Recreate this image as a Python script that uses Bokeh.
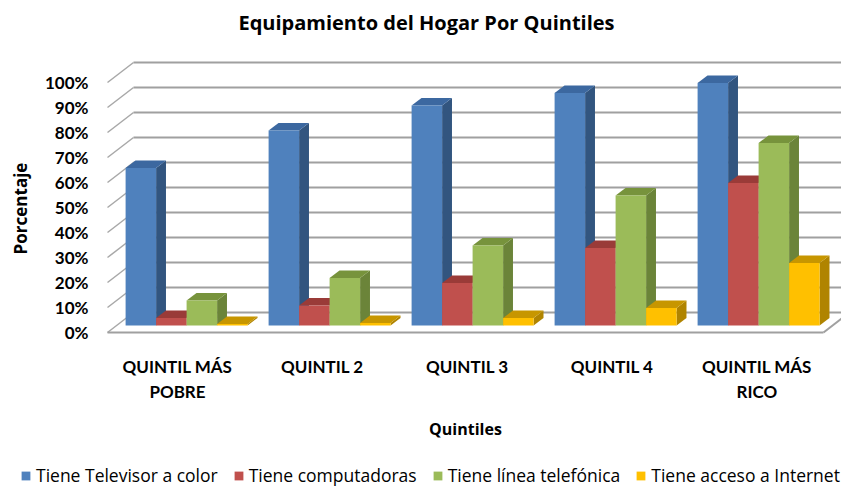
import math
from bokeh.plotting import figure
from bokeh.models import Range1d, Legend, LegendItem
from bokeh.core.properties import value
from bokeh.embed import file_html
from bokeh.resources import INLINE

# ---------------- data ----------------
categories = ["QUINTIL MÁS\nPOBRE", "QUINTIL 2", "QUINTIL 3", "QUINTIL 4", "QUINTIL MÁS\nRICO"]
series_names = ["Tiene Televisor a color", "Tiene computadoras",
                "Tiene línea telefónica", "Tiene acceso a Internet"]
tv = [63, 78, 88, 93, 97]
comp = [3, 8, 17, 31, 57]
tel = [10, 19, 32, 52, 73]
inet = [0.6, 1, 3, 7, 25]
y_ticks = [0, 10, 20, 30, 40, 50, 60, 70, 80, 90, 100]
y_tick_labels = ["0%", "10%", "20%", "30%", "40%", "50%", "60%", "70%", "80%", "90%", "100%"]
title = "Equipamiento del Hogar Por Quintiles"
y_title = "Porcentaje"
x_title = "Quintiles"

series = [tv, comp, tel, inet]
front_colors = ["#4F81BD", "#C0504D", "#9BBB59", "#FFC000"]
side_colors = ["#32557F", "#8C3836", "#6B8439", "#B08400"]
top_colors = ["#3C68A0", "#9A3B38", "#77933C", "#C79600"]

FONT = "Lato"
FONT2 = "Open Sans"

# ---------------- scales: whole canvas is the frame ----------------
W, H = 841, 491
PXX = 143.0          # pixels per category
PXY = 2.5            # pixels per percent
CX0 = 177.0          # pixel x of category 0 (unshifted)
CY0 = 332.0          # pixel y of 0 % on the front wall


def px2x(px):
    return (px - CX0) / PXX


def py2y(py):
    return (CY0 - py) / PXY


p = figure(width=W, height=H, x_range=Range1d(px2x(0), px2x(W)), y_range=Range1d(py2y(H), py2y(0)),
           output_backend="svg", toolbar_location=None,
           min_border=0, min_border_left=0, min_border_right=0, min_border_top=0, min_border_bottom=0)
p.outline_line_color = None
p.axis.visible = False
p.xgrid.visible = False
p.ygrid.visible = False
p.background_fill_color = "white"

# 3D geometry
xW = px2x(107)       # left (front) edge of the wall
xFR = px2x(823)      # right front edge of the floor
DX = 26.0 / PXX      # wall depth (x)
DY = 20.0 / PXY      # wall depth (y)
D0 = 0.35            # depth of bar front face
DB = 0.38            # bar depth
GW = 122.0 / PXX     # group width
BW = GW / 4.0        # bar width

# walls / gridlines
bx0 = [xW + DX for v in y_ticks]
bx1 = [px2x(W + 20) for v in y_ticks]
by = [v + DY for v in y_ticks]
p.segment(x0=bx0, y0=by, x1=bx1, y1=by, line_color="#A0A0A0", line_width=2)
p.segment(x0=[xW for v in y_ticks], y0=y_ticks, x1=bx0, y1=by, line_color="#A8A8A8", line_width=1.5)
# floor
p.segment(x0=[xW, xFR], y0=[0, 0], x1=[xFR, xFR + DX], y1=[0, DY], line_color="#A0A0A0", line_width=2)

# bars
sides_x, sides_y, sides_c = [], [], []
tops_x, tops_y, tops_c = [], [], []
fronts = []
bxd, byd = DB * DX, DB * DY
for s, vals in enumerate(series):
    lefts, rights, bots, tops_ = [], [], [], []
    for i, v in enumerate(vals):
        xl = i - GW / 2 + s * BW + D0 * DX
        xr = xl + BW
        yb = D0 * DY
        yt = yb + v
        sides_x.append([xr, xr + bxd, xr + bxd, xr])
        sides_y.append([yb, yb + byd, yt + byd, yt])
        sides_c.append(side_colors[s])
        tops_x.append([xl, xr, xr + bxd, xl + bxd])
        tops_y.append([yt, yt, yt + byd, yt + byd])
        tops_c.append(top_colors[s])
        lefts.append(xl); rights.append(xr); bots.append(yb); tops_.append(yt)
    fronts.append((lefts, rights, bots, tops_))

p.patches(xs=sides_x, ys=sides_y, fill_color=sides_c, line_color=None)
p.patches(xs=tops_x, ys=tops_y, fill_color=tops_c, line_color=None)
renderers = []
for s, (l, r, b, t) in enumerate(fronts):
    rr = p.quad(left=l, right=r, bottom=b, top=t, fill_color=front_colors[s], line_color=None)
    renderers.append(rr)

# y tick labels (front wall scale)
p.text(x=[px2x(88)] * len(y_ticks), y=y_ticks, text=y_tick_labels,
       text_font=value(FONT), text_font_style="bold", text_font_size="17px",
       text_align="right", text_baseline="middle", text_color="#000000")
# y title
p.text(x=[px2x(20)], y=[py2y(208)], text=[y_title], angle=math.pi / 2,
       text_font=value(FONT2), text_font_style="bold", text_font_size="17px",
       text_align="center", text_baseline="middle", text_color="#000000")

# category labels (one text per line)
lx, ly, lt = [], [], []
for i, c in enumerate(categories):
    for k, line in enumerate(c.split("\n")):
        lx.append(i * 1.013)
        ly.append(py2y(366 + 25 * k))
        lt.append(line)
p.text(x=lx, y=ly, text=lt, text_font=value(FONT), text_font_style="bold", text_font_size="17px",
       text_align="center", text_baseline="middle", text_color="#000000")
# x title
p.text(x=[px2x(465)], y=[py2y(428)], text=[x_title],
       text_font=value(FONT2), text_font_style="bold", text_font_size="16px",
       text_align="center", text_baseline="middle", text_color="#000000")
# chart title
p.text(x=[px2x(426)], y=[py2y(22)], text=[title],
       text_font=value(FONT2), text_font_style="bold", text_font_size="20px",
       text_align="center", text_baseline="middle", text_color="#000000")

# legend (inside the full-canvas frame)
legend = Legend(items=[LegendItem(label=n, renderers=[r]) for n, r in zip(series_names, renderers)],
                orientation="horizontal", location=(20, 4))
legend.glyph_width = 11
legend.glyph_height = 11
legend.label_standoff = 5
legend.spacing = 15
legend.padding = 0
legend.margin = 0
legend.border_line_color = None
legend.background_fill_alpha = 0
legend.label_text_font = FONT2
legend.label_text_font_size = "17.5px"
legend.label_text_color = "#000000"
p.add_layout(legend)

open("out.html", "w").write(file_html(p, INLINE))
